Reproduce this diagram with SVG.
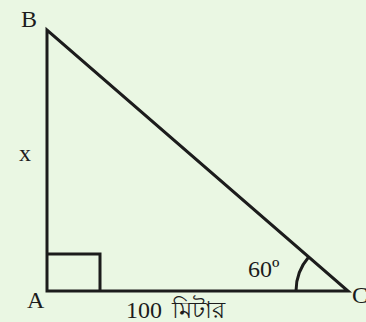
<svg xmlns="http://www.w3.org/2000/svg" width="366" height="322" viewBox="0 0 366 322">
<style>
.ln{fill:none;stroke:#1c1c1c;stroke-width:3;stroke-linejoin:miter}
.t{font-family:"Liberation Serif","Noto Sans",serif;fill:#1c1c1c;font-size:24px}
</style>
<rect width="366" height="322" fill="#eaf7e3"/>
<g id="connectors">
<path class="ln" d="M47,30 L47,291 L348,291 Z"/>
<path class="ln" d="M47,254 L100,254 L100,291"/>
<path class="ln" d="M296,291 A52,52 0 0 1 308.7,257"/>
</g>
<g id="B"><text class="t" x="21" y="27">B</text></g>
<g id="A"><text class="t" x="27" y="308">A</text></g>
<g id="C"><text class="t" x="352" y="303">C</text></g>
<g id="x"><text class="t" x="19" y="161">x</text></g>
<g id="angle"><text class="t" x="248" y="277">60º</text></g>
<g id="base"><text class="t" x="126" y="318">100 <tspan x="172">মিটার</tspan></text></g>
</svg>
